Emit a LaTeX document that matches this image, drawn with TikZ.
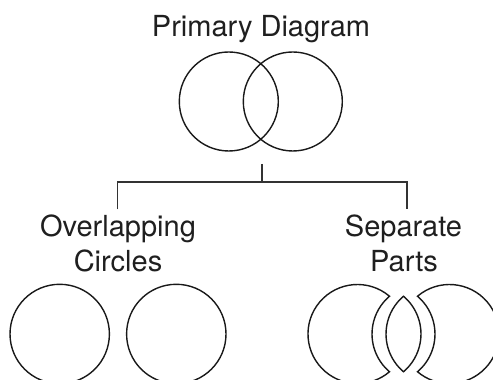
\documentclass[tikz,border=0pt]{standalone}
\usepackage{fontspec}
\setmainfont{TeX Gyre Heros}
\begin{document}
\begin{tikzpicture}[x=1pt,y=1pt,
  shape line/.style={line width=1.4pt, draw=black!90},
  tree line/.style={line width=1.4pt, draw=black!80},
  label text/.style={anchor=base, inner sep=0pt, text=black!88, font=\fontsize{29}{35}\selectfont}]
\clip (0,0) rectangle (493,380);
\useasboundingbox (0,0) rectangle (493,380);
% titles
\node[label text] (title) at (261,343.3) {Primary Diagram};
\node[label text] (ov) at (118,143.3) {Overlapping};
\node[label text] (ci) at (118,108.3) {Circles};
\node[label text] (se) at (403.5,143.3) {Separate};
\node[label text] (pa) at (404,108.3) {Parts};
% top Venn
\draw[shape line] (228.8,278.5) circle[radius=49.5];
\draw[shape line] (292.8,278.5) circle[radius=49.5];
% tree
\coordinate (stemtop) at (262,216);
\coordinate (stembot) at (262,198);
\coordinate (lt) at (117.3,198);
\coordinate (lb) at (117.3,170.7);
\coordinate (rt) at (407,198);
\coordinate (rb) at (407,170.7);
\draw[tree line] (stemtop) -- (stembot);
\draw[tree line] (lb) -- (lt) -- (rt) -- (rb);
% bottom left circles
\draw[shape line] (59.7,46) circle[radius=49.7];
\draw[shape line] (176.3,46) circle[radius=49.7];
% separate parts
\draw[shape line] (389.5,83.75) arc[start angle=49.7, end angle=310.3, radius=49.5]
   arc[start angle=229.7, end angle=130.3, radius=49.5] -- cycle;
\draw[shape line] (403.5,83.75) arc[start angle=49.7, end angle=-49.7, radius=49.5]
   arc[start angle=229.7, end angle=130.3, radius=49.5] -- cycle;
\draw[shape line] (417.5,83.75) arc[start angle=130.3, end angle=-130.3, radius=49.5]
   arc[start angle=-49.7, end angle=49.7, radius=49.5] -- cycle;
\end{tikzpicture}
\end{document}
